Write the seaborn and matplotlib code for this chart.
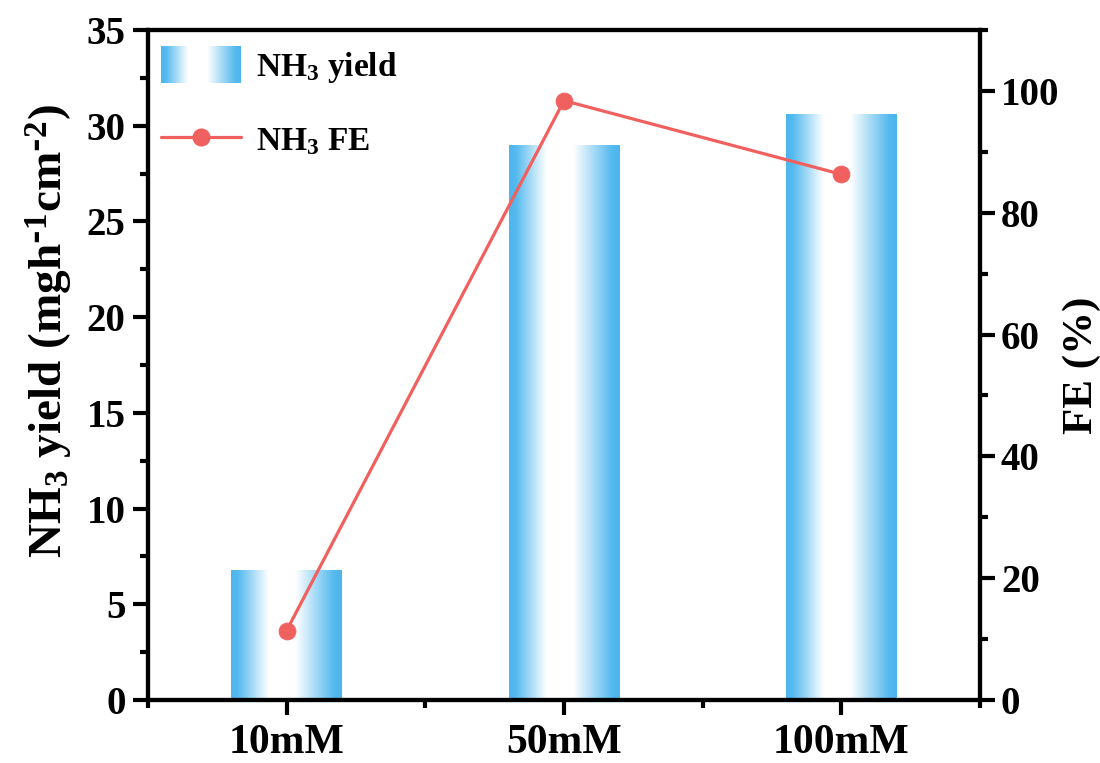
import numpy as np
import matplotlib
matplotlib.use("Agg")
import matplotlib.pyplot as plt
import seaborn as sns
from matplotlib.colors import LinearSegmentedColormap, Normalize
from matplotlib.legend_handler import HandlerBase
from matplotlib.image import BboxImage
from matplotlib.transforms import Bbox, TransformedBbox
from matplotlib.patches import Patch
from matplotlib.lines import Line2D
from matplotlib.ticker import MultipleLocator, FixedLocator

# ---- data ----
categories = ["10mM", "50mM", "100mM"]
nh3_yield = [6.8, 29.0, 30.6]
nh3_fe = [11.4, 98.4, 86.3]
left_ticks = [0, 5, 10, 15, 20, 25, 30, 35]
right_ticks = [0, 20, 40, 60, 80, 100]

BLUE = "#4CB6EE"
RED = "#F0605E"

sns.set_style("ticks")
plt.rcParams["font.family"] = ["Liberation Serif", "DejaVu Serif"]
plt.rcParams["font.weight"] = "bold"
plt.rcParams["axes.labelweight"] = "bold"
plt.rcParams["mathtext.default"] = "regular"
plt.rcParams["axes.linewidth"] = 3
plt.rcParams["axes.edgecolor"] = "black"
plt.rcParams["text.color"] = "black"
plt.rcParams["axes.labelcolor"] = "black"
plt.rcParams["xtick.color"] = "black"
plt.rcParams["ytick.color"] = "black"

cmap = LinearSegmentedColormap.from_list("bw", ["#FFFFFF", BLUE])
t = np.linspace(0, 1, 256)
prof = np.interp(t, [0, 0.06, 0.34, 0.58, 0.93, 1.0], [1, 0.95, 0.0, 0.0, 0.95, 1])
grad = prof[None, :]

fig = plt.figure(figsize=(11, 7.63), dpi=100)
ax = fig.add_axes([0.1345, 0.0826, 0.891 - 0.1345, 0.9607 - 0.0826])

sns.barplot(x=categories, y=nh3_yield, ax=ax, width=0.4, color=BLUE, zorder=2)
for p in ax.patches:
    x0, y0 = p.get_x(), p.get_y()
    w, h = p.get_width(), p.get_height()
    p.set_facecolor("none")
    p.set_edgecolor("none")
    im = ax.imshow(grad, extent=[x0, x0 + w, y0, y0 + h], aspect="auto",
                   cmap=cmap, norm=Normalize(0, 1), interpolation="bicubic", zorder=2)
    im.set_clip_path(p)

ax.set_xlim(-0.5, 2.5)
ax.set_ylim(0, 35)
ax.set_yticks(left_ticks)
ax.yaxis.set_minor_locator(MultipleLocator(2.5))
ax.xaxis.set_minor_locator(FixedLocator([-0.5, 0.5, 1.5, 2.5]))
ax.tick_params(axis="y", which="major", direction="out", length=11, width=3, labelsize=28, pad=5)
ax.tick_params(axis="y", which="minor", direction="out", length=6, width=3)
ax.tick_params(axis="x", which="major", direction="out", length=11, width=3, labelsize=30, pad=6)
ax.tick_params(axis="x", which="minor", direction="out", length=6, width=3)
ax.set_ylabel(r"NH$_3$ yield (mgh$^{\text{-}1}$cm$^{\text{-}2}$)", fontsize=34)
ax.yaxis.set_label_coords(-0.088, 0.55)
ax.set_xlabel("")

ax2 = ax.twinx()
xpos = np.arange(len(categories))
sns.lineplot(x=xpos, y=nh3_fe, ax=ax2, color=RED, linewidth=2.3, marker="o",
             markersize=12, markeredgecolor=RED, zorder=3)
ax2.set_ylim(0, 110)
ax2.set_yticks(right_ticks)
ax2.yaxis.set_minor_locator(MultipleLocator(10))
ax2.tick_params(axis="y", which="major", direction="out", length=11, width=3, labelsize=28, pad=4)
ax2.tick_params(axis="y", which="minor", direction="out", length=6, width=3)
ax2.set_ylabel("FE (%)", fontsize=31, labelpad=2)
ax2.set_xlim(-0.5, 2.5)
for s in ax2.spines.values():
    s.set_linewidth(3)
    s.set_edgecolor("black")
for lab in ax.get_xticklabels() + ax.get_yticklabels() + ax2.get_yticklabels():
    lab.set_fontweight("bold")


class GradHandler(HandlerBase):
    def create_artists(self, legend, orig_handle, xdescent, ydescent, width, height, fontsize, trans):
        extra = height * 0.12
        bb = Bbox.from_bounds(-xdescent, -ydescent - extra, width, height + 2 * extra)
        img = BboxImage(TransformedBbox(bb, trans), cmap=cmap, norm=Normalize(0, 1),
                        interpolation="bicubic")
        img.set_data(grad)
        return [img]


bar_handle = Patch(facecolor=BLUE, label="NH$_3$ yield")
line_handle = Line2D([], [], color=RED, linewidth=2.3, marker="o", markersize=12,
                     label="NH$_3$ FE")
ax2.legend(handles=[bar_handle, line_handle], loc="upper left", frameon=False,
           fontsize=24, handlelength=2.4, handleheight=1.0, handletextpad=0.45,
           labelspacing=1.15, borderaxespad=0.0, bbox_to_anchor=(0.0, 0.99),
           handler_map={Patch: GradHandler()})

fig.savefig("out.png", dpi=100, facecolor="white")
